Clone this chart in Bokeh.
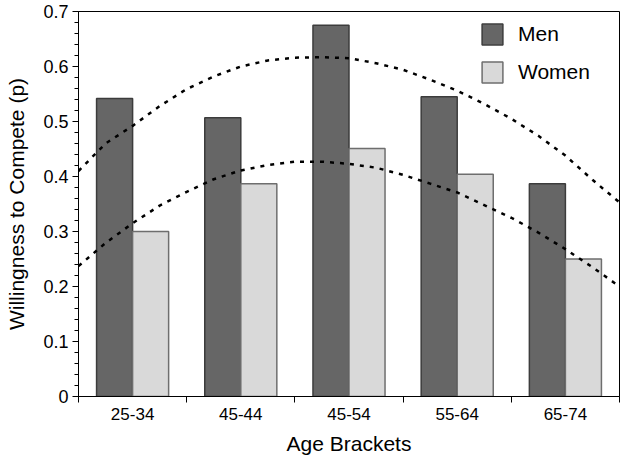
from bokeh.plotting import figure
from bokeh.models import (FixedTicker, NumeralTickFormatter,
                          Legend, LegendItem, Range1d, ColumnDataSource)
from bokeh.embed import file_html
from bokeh.resources import INLINE

# ---- data ----
categories = ["25-34", "45-44", "45-54", "55-64", "65-74"]
men = [0.542, 0.507, 0.675, 0.545, 0.387]
women = [0.300, 0.387, 0.451, 0.404, 0.250]
y_ticks = [0, 0.1, 0.2, 0.3, 0.4, 0.5, 0.6, 0.7]

# dotted trend curves (x in category units)
trend_x = [0.0, 0.25, 0.5, 0.75, 1.0, 1.25, 1.5, 1.75, 2.0, 2.25, 2.5,
           2.75, 3.0, 3.25, 3.5, 3.75, 4.0, 4.25, 4.5, 4.75, 5.0]
men_trend = [0.410, 0.460, 0.492, 0.528, 0.559, 0.582, 0.600, 0.611, 0.616, 0.617, 0.615,
             0.606, 0.594, 0.576, 0.556, 0.532, 0.505, 0.474, 0.438, 0.394, 0.353]
women_trend = [0.237, 0.279, 0.315, 0.347, 0.372, 0.395, 0.411, 0.421, 0.427, 0.427, 0.423,
               0.416, 0.403, 0.387, 0.371, 0.348, 0.325, 0.298, 0.268, 0.235, 0.200]

FONT = "Liberation Sans"

n = len(categories)
centers = [i + 0.5 for i in range(n)]
bar_w = 0.333

src = ColumnDataSource(dict(
    men_x=[c - bar_w / 2 for c in centers],
    women_x=[c + bar_w / 2 for c in centers],
    men=men, women=women,
))

p = figure(frame_width=541, frame_height=385,
           x_range=Range1d(0, n), y_range=Range1d(0, 0.7),
           output_backend="svg", toolbar_location=None,
           min_border_left=78, min_border_right=5,
           min_border_top=11, min_border_bottom=70)

p.background_fill_color = "white"
p.border_fill_color = "white"
p.outline_line_color = "black"
p.outline_line_width = 1
p.xgrid.visible = False
p.ygrid.visible = False

r_men = p.vbar(x="men_x", top="men", width=bar_w, source=src,
               fill_color="#666666", line_color="#3c3c3c", line_width=1.5)
r_women = p.vbar(x="women_x", top="women", width=bar_w, source=src,
                 fill_color="#d9d9d9", line_color="#6e6e6e", line_width=1.5)

p.line(trend_x, men_trend, line_color="black", line_width=2.5, line_dash="4 6")
p.line(trend_x, women_trend, line_color="black", line_width=2.5, line_dash="4 6")

# x axis: labels at category centres, ticks at category boundaries
xa = p.xaxis[0]
xa.ticker = FixedTicker(ticks=centers, minor_ticks=list(range(n + 1)))
xa.major_label_overrides = {c: lab for c, lab in zip(centers, categories)}
xa.major_tick_out = 0
xa.major_tick_in = 0
xa.minor_tick_out = 6
xa.minor_tick_in = 0
xa.minor_tick_line_color = "black"
xa.axis_line_color = "black"
xa.major_label_text_font = FONT
xa.major_label_text_font_size = "17px"
xa.major_label_text_color = "black"
xa.major_label_standoff = 5
xa.axis_label = "Age Brackets"
xa.axis_label_text_font = FONT
xa.axis_label_text_font_size = "21px"
xa.axis_label_text_font_style = "normal"
xa.axis_label_text_color = "black"
xa.axis_label_standoff = 9

ya = p.yaxis[0]
ya.ticker = FixedTicker(ticks=y_ticks,
                        minor_ticks=[round(i * 0.02, 2) for i in range(36)])
ya.formatter = NumeralTickFormatter(format="0.[0]")
ya.major_tick_out = 6
ya.major_tick_in = 0
ya.minor_tick_out = 4
ya.minor_tick_in = 0
ya.major_tick_line_color = "black"
ya.minor_tick_line_color = "black"
ya.axis_line_color = "black"
ya.major_label_text_font = FONT
ya.major_label_text_font_size = "18px"
ya.major_label_text_color = "black"
ya.major_label_standoff = 4
ya.axis_label = "Willingness to Compete (p)"
ya.axis_label_text_font = FONT
ya.axis_label_text_font_size = "21px"
ya.axis_label_text_font_style = "normal"
ya.axis_label_text_color = "black"
ya.axis_label_standoff = 12

legend = Legend(items=[LegendItem(label="Men", renderers=[r_men]),
                       LegendItem(label="Women", renderers=[r_women])],
                location=(401, 311))
legend.padding = 0
legend.spacing = 12
legend.glyph_width = 26
legend.glyph_height = 26
legend.label_height = 26
legend.label_standoff = 13
legend.label_text_font = FONT
legend.label_text_font_size = "21px"
legend.label_text_color = "black"
legend.border_line_color = None
legend.background_fill_alpha = 0
p.add_layout(legend)

open("out.html", "w").write(file_html(p, INLINE))
